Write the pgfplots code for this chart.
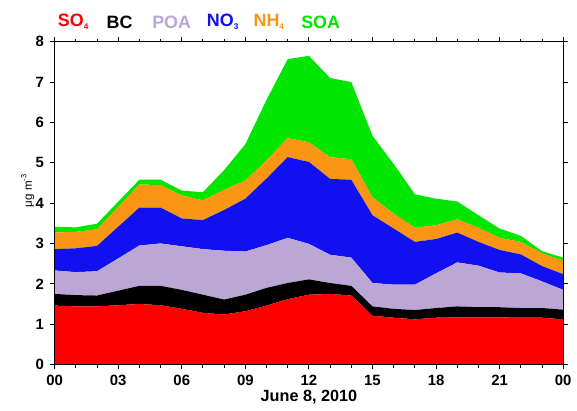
\documentclass[border=0pt]{standalone}
\usepackage{pgfplots}
\pgfplotsset{compat=1.18}
\usetikzlibrary{calc}
\usepackage{fontspec}
\setmainfont{Liberation Sans}

\definecolor{so4}{RGB}{255,0,0}
\definecolor{bc}{RGB}{0,0,0}
\definecolor{poa}{RGB}{188,166,214}
\definecolor{no3}{RGB}{16,16,240}
\definecolor{nh4}{RGB}{250,150,20}
\definecolor{soa}{RGB}{0,230,0}

\newcommand{\lowidx}[1]{\raisebox{-0.25ex}{\fontsize{5}{6}\selectfont #1}}
\newcommand{\highidx}[1]{\raisebox{0.9ex}{\fontsize{4.5}{5}\selectfont #1}}

% hourly mass concentrations (ug m-3), one column per component
\pgfplotstableread{
hr so4  bc    poa   no3   nh4   soa
0  1.46 0.29  0.58  0.53  0.41  0.14
1  1.44 0.28  0.57  0.59  0.41  0.11
2  1.44 0.27  0.60  0.63  0.41  0.14
4  1.50 0.45  1.00  0.94  0.57  0.12
5  1.47 0.48  1.05  0.89  0.56  0.13
6  1.38 0.47  1.08  0.69  0.57  0.12
7  1.28 0.45  1.13  0.72  0.49  0.20
8  1.24 0.37  1.21  1.01  0.50  0.49
9  1.32 0.41  1.07  1.31  0.45  0.90
10 1.46 0.44  1.06  1.65  0.45  1.50
11 1.62 0.40  1.12  2.00  0.47  1.96
12 1.73 0.38  0.88  2.03  0.49  2.14
13 1.75 0.27  0.70  1.88  0.54  1.96
14 1.71 0.24  0.70  1.93  0.51  1.91
15 1.21 0.23  0.58  1.68  0.45  1.52
16 1.16 0.22  0.60  1.39  0.37  1.23
17 1.12 0.23  0.63  1.06  0.35  0.83
18 1.16 0.24  0.86  0.85  0.34  0.66
19 1.17 0.27  1.09  0.74  0.33  0.44
20 1.17 0.25  1.03  0.59  0.35  0.31
21 1.17 0.25  0.86  0.56  0.30  0.23
22 1.16 0.24  0.86  0.47  0.31  0.15
23 1.16 0.24  0.66  0.38  0.32  0.05
24 1.12 0.24  0.49  0.39  0.33  0.08
}\conctable

\begin{document}
\begin{tikzpicture}
\begin{axis}[
  name=main,
  scale only axis,
  width=307.2pt, height=195pt,
  xmin=0, xmax=24, ymin=0, ymax=8,
  stack plots=y,
  axis on top,
  axis line style={black, line width=0.7pt},
  xtick={0,3,...,24},
  xticklabels={00,03,06,09,12,15,18,21,00},
  minor xtick={0,1,...,24},
  ytick={0,1,...,8},
  tick align=outside,
  major tick length=3pt,
  minor tick length=1.8pt,
  tick style={black, line width=0.6pt},
  ticklabel style={font=\fontsize{9}{10}\selectfont\bfseries},
  /pgf/number format/assume math mode=true,
  xlabel={June 8, 2010},
  xlabel style={font=\fontsize{9.8}{11}\selectfont\bfseries, yshift=4pt},
]
\addplot[fill=so4, draw=none] table[x=hr, y=so4] {\conctable} \closedcycle;
\addplot[fill=bc,  draw=none] table[x=hr, y=bc]  {\conctable} \closedcycle;
\addplot[fill=poa, draw=none] table[x=hr, y=poa] {\conctable} \closedcycle;
\addplot[fill=no3, draw=none] table[x=hr, y=no3] {\conctable} \closedcycle;
\addplot[fill=nh4, draw=none] table[x=hr, y=nh4] {\conctable} \closedcycle;
\addplot[fill=soa, draw=none] table[x=hr, y=soa] {\conctable} \closedcycle;
\end{axis}

% component key above the frame
\begin{scope}[every node/.style={anchor=west, inner sep=0pt, font=\fontsize{10.8}{12}\selectfont\bfseries}]
\node[text=so4] at ($(main.north west)+(1.8pt,12pt)$)   {SO\lowidx{4}};
\node[text=bc]  at ($(main.north west)+(31.2pt,12pt)$)  {BC};
\node[text=poa] at ($(main.north west)+(58.8pt,12pt)$)  {POA};
\node[text=no3] at ($(main.north west)+(91.8pt,12pt)$)  {NO\lowidx{3}};
\node[text=nh4] at ($(main.north west)+(120pt,12pt)$)   {NH\lowidx{4}};
\node[text=soa] at ($(main.north west)+(148.8pt,12pt)$) {SOA};
\end{scope}

% y-axis unit
\node[rotate=90, inner sep=0pt, font=\fontsize{7}{8}\selectfont]
  at ($(main.south west)+(-16.2pt,105pt)$) {μg m\highidx{-3}};

% page extent
\path ($(main.south west)+(-33pt,-25.8pt)$) rectangle ($(main.north east)+(6pt,25.2pt)$);
\end{tikzpicture}
\end{document}
